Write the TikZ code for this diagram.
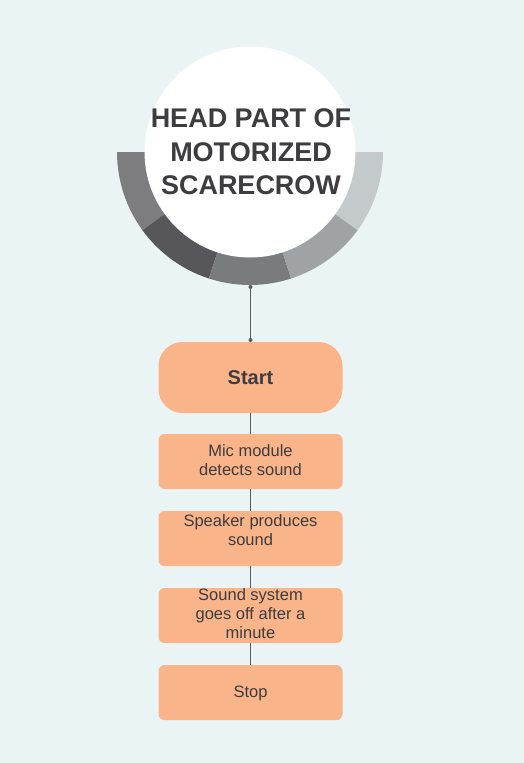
\documentclass[tikz,border=0pt]{standalone}
\usepackage{fontspec}
\setmainfont{Liberation Sans}
\definecolor{bg}{HTML}{EAF4F5}
\definecolor{boxfill}{HTML}{FAB48A}
\definecolor{txt}{HTML}{3D3D3F}
\definecolor{segA}{HTML}{7D7D80}
\definecolor{segB}{HTML}{57565A}
\definecolor{segC}{HTML}{7A7B7F}
\definecolor{segD}{HTML}{A0A3A6}
\definecolor{segE}{HTML}{C4CACC}
\definecolor{line}{HTML}{5A5A5C}
\tikzset{
  stepbox/.style={fill=boxfill, draw=none, rounded corners=6pt, minimum width=184pt, minimum height=55pt, inner sep=0pt},
  steptext/.style={text=txt, align=center, font=\fontsize{16.5}{19}\selectfont, inner sep=0pt},
  conn/.style={draw=line, line width=1pt},
  dotnode/.style={circle, fill=line, inner sep=0pt, minimum size=4pt},
}
\begin{document}
\begin{tikzpicture}[x=1pt,y=-1pt]
\fill[bg] (0,0) rectangle (524,763);
\useasboundingbox (0,0) rectangle (524,763);
% ring segments
\begin{scope}[shift={(250,152)}]
\fill[segA] (0,0) -- (180:133) arc[start angle=180,end angle=144,radius=133] -- cycle;
\fill[segB] (0,0) -- (144:133) arc[start angle=144,end angle=108,radius=133] -- cycle;
\fill[segC] (0,0) -- (108:133) arc[start angle=108,end angle=72,radius=133] -- cycle;
\fill[segD] (0,0) -- (72:133) arc[start angle=72,end angle=36,radius=133] -- cycle;
\fill[segE] (0,0) -- (36:133) arc[start angle=36,end angle=0,radius=133] -- cycle;
\end{scope}
\node[circle, fill=white, minimum size=211pt, inner sep=0pt] (head) at (250,152) {};
\node[text=txt, align=center, font=\fontsize{27}{33.5}\selectfont\bfseries, inner sep=0pt] (title) at (251,152) {HEAD PART OF\\MOTORIZED \\SCARECROW};
% boxes
\node[stepbox, rounded corners=24pt, minimum height=71pt] (start) at (250.5,377.5) {};
\node[text=txt, font=\fontsize{20}{22}\selectfont\bfseries, inner sep=0pt] (tstart) at (250.5,377.5) {Start};
\node[stepbox] (b2) at (250.5,461.5) {};
\node[steptext] (t2) at (250.5,460) {Mic module\\detects sound};
\node[stepbox] (b3) at (250.5,538.5) {};
\node[steptext] (t3) at (250.5,530) {Speaker produces\\sound};
\node[stepbox] (b4) at (250.5,615.5) {};
\node[steptext] (t4) at (250.5,614) {Sound system\\goes off after a\\minute};
\node[stepbox] (b5) at (250.5,692.5) {};
\node[steptext] (t5) at (250.5,693) {Stop};
% connectors
\node[dotnode] (d1) at (250.5,287) {};
\node[dotnode] (d2) at (250.5,340) {};
\draw[conn] (d1.center) -- (d2.center);
\draw[conn] (start.south) -- (b2.north);
\draw[conn] (b2.south) -- (b3.north);
\draw[conn] (b3.south) -- (b4.north);
\draw[conn] (b4.south) -- (b5.north);
\end{tikzpicture}
\end{document}
